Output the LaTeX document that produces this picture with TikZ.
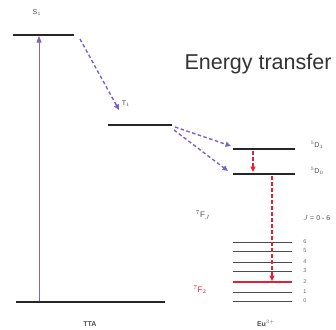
\documentclass[tikz,border=0pt]{standalone}
\usepackage{fontspec}
\setmainfont{Liberation Sans}
\usetikzlibrary{arrows.meta}
\definecolor{vio}{RGB}{125,95,205}
\definecolor{evio}{RGB}{130,100,190}
\definecolor{ered}{RGB}{228,32,52}
\begin{document}
\begin{tikzpicture}[x=1pt,y=-1pt,
  lev/.style={line width=2.6pt, black!85},
  sublev/.style={line width=0.9pt, black!70},
  lab/.style={font=\fontsize{7}{8}\selectfont, text=black!70, inner sep=0pt},
  numlab/.style={font=\fontsize{5.5}{6}\selectfont, text=black!60, inner sep=0pt},
  vdash/.style={vio, line width=1.4pt, dash pattern=on 3.5pt off 2.5pt, -{Triangle[length=5.5pt,width=5pt]}},
  rdash/.style={ered, line width=1.2pt, dash pattern=on 3.5pt off 2.5pt, -{Triangle[length=5.5pt,width=5pt]}}]
\useasboundingbox (0,0) rectangle (336,329);
% levels
\coordinate (s1a) at (13,35);  \coordinate (s1b) at (74,35);
\coordinate (g0a) at (16,302); \coordinate (g0b) at (165,302);
\coordinate (t1a) at (108,125); \coordinate (t1b) at (172,125);
\coordinate (d1a) at (233,149); \coordinate (d1b) at (295,149);
\coordinate (d0a) at (233,174); \coordinate (d0b) at (295,174);
\draw[lev] (s1a) -- (s1b);
\draw[lev] (g0a) -- (g0b);
\draw[lev] (t1a) -- (t1b);
\draw[lev] (d1a) -- (d1b);
\draw[lev] (d0a) -- (d0b);
% 7F_J manifold
\foreach \J/\y in {6/242,5/251,4/262,3/271,1/292,0/301}{
  \coordinate (fa\J) at (233,\y); \coordinate (fb\J) at (292,\y);
  \draw[sublev] (fa\J) -- (fb\J);
  \node[numlab] (nj\J) at (305,\y) {\J};
}
\coordinate (fa2) at (233,282); \coordinate (fb2) at (292,282);
\draw[ered, line width=1.4pt] (fa2) -- (fb2);
\node[numlab] (nj2) at (305,282) {2};
% arrows
\coordinate (ex0) at (39,301); \coordinate (ex1) at (39,36);
\draw[evio, line width=0.9pt, -{Triangle[length=6.5pt,width=5pt]}] (ex0) -- (ex1);
\coordinate (p0) at (80,39); \coordinate (p1) at (119,110);
\draw[vdash] (p0) -- (p1);
\coordinate (q0) at (175,127); \coordinate (q1) at (231,146);
\draw[vdash] (q0) -- (q1);
\coordinate (r0) at (174,130); \coordinate (r1) at (228,171);
\draw[vdash] (r0) -- (r1);
\coordinate (u0) at (253,151); \coordinate (u1) at (253,172);
\draw[rdash] (u0) -- (u1);
\coordinate (w0) at (272,176); \coordinate (w1) at (272,281);
\draw[rdash] (w0) -- (w1);
% labels
\node[lab] (ls1) at (37,13) {S$_1$};
\node[lab] (lt1) at (126,104) {T$_1$};
\node[lab] (ld1) at (317,145) {$^5$D$_1$};
\node[lab] (ld0) at (317,171) {$^5$D$_0$};
\node[lab, font=\fontsize{8}{9}\selectfont] (lfj) at (203,215) {$^7$F$_J$};
\node[lab, font=\fontsize{7}{8}\selectfont, anchor=west] (ljr) at (303,218) {$J$ = 0 - 6};
\node[lab, font=\fontsize{8}{9}\selectfont, text=ered] (lf2) at (200,290) {$^7$F$_2$};
\node[lab, font=\bfseries\fontsize{7}{8}\selectfont] (ltta) at (90,324) {TTA};
\node[lab, font=\bfseries\fontsize{7}{8}\selectfont] (leu) at (266,323) {Eu$^{3+}$};
\node[inner sep=0pt, font=\fontsize{21.5}{24}\selectfont, text=black!80, anchor=base] (et) at (258,69) {Energy transfer};
\end{tikzpicture}
\end{document}
